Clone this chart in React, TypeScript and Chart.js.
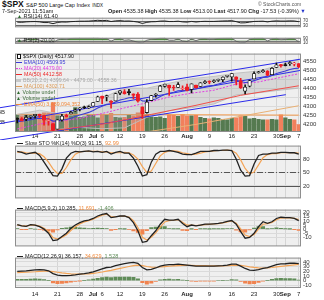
import React, { useEffect, useRef } from "react";
import { Chart, registerables } from "chart.js";

Chart.register(...registerables);

const FONT = "'Liberation Sans', Arial, Helvetica, sans-serif";
const W = 324;

// ---------------- data (trading days 8-Jun-2021 .. 7-Sep-2021) ----------------
const openP = [
  4233.8, 4232.0, 4228.6, 4242.9, 4248.3, 4255.3, 4248.9, 4220.4, 4204.8, 4173.4,
  4224.6, 4249.3, 4257.0, 4274.5, 4284.9, 4293.2, 4290.7, 4300.7, 4326.6, 4356.5,
  4351.0, 4321.1, 4329.4, 4372.4, 4381.1, 4380.1, 4369.0, 4367.4, 4296.4, 4265.1,
  4331.1, 4361.3, 4381.2, 4409.6, 4416.4, 4402.9, 4403.6, 4395.1, 4406.9, 4392.7,
  4415.9, 4408.9, 4429.1, 4437.8, 4435.8, 4442.2, 4446.1, 4464.8, 4461.7, 4462.1,
  4440.9, 4382.4, 4410.6, 4450.3, 4484.4, 4490.5, 4493.8, 4474.1, 4513.8, 4529.8,
  4528.8, 4534.5, 4532.4, 4535.4,
];
const highP = [
  4236.7, 4237.1, 4249.7, 4248.4, 4255.6, 4257.2, 4251.9, 4232.3, 4204.8, 4226.2,
  4255.8, 4256.6, 4271.3, 4286.1, 4292.1, 4300.5, 4302.4, 4320.7, 4355.4, 4356.5,
  4361.9, 4330.9, 4372.0, 4386.7, 4392.4, 4393.7, 4369.0, 4375.1, 4296.4, 4336.8,
  4359.7, 4369.9, 4415.2, 4422.7, 4416.4, 4415.5, 4430.0, 4412.3, 4422.2, 4423.8,
  4416.2, 4429.8, 4440.8, 4439.4, 4445.2, 4449.4, 4461.8, 4468.0, 4480.3, 4462.1,
  4454.3, 4418.6, 4444.4, 4489.9, 4492.8, 4501.7, 4495.9, 4513.3, 4537.4, 4531.4,
  4537.1, 4545.9, 4541.5, 4535.4,
];
const lowP = [
  4208.4, 4218.7, 4220.3, 4232.0, 4234.1, 4238.4, 4196.0, 4196.1, 4164.4, 4173.4,
  4217.3, 4241.4, 4257.0, 4271.2, 4274.7, 4287.0, 4288.0, 4300.7, 4326.6, 4314.4,
  4329.8, 4289.4, 4329.4, 4364.0, 4366.9, 4362.4, 4340.7, 4322.5, 4233.1, 4262.1,
  4331.1, 4350.1, 4381.2, 4405.5, 4360.0, 4387.0, 4403.6, 4389.2, 4384.8, 4373.0,
  4400.2, 4408.9, 4424.8, 4424.7, 4430.0, 4436.4, 4435.5, 4460.0, 4437.7, 4417.8,
  4397.6, 4367.7, 4406.8, 4450.3, 4482.3, 4485.7, 4469.0, 4474.1, 4513.8, 4515.8,
  4522.0, 4524.7, 4521.9, 4513.0,
];
const closeP = [
  4227.3, 4219.6, 4239.2, 4247.4, 4255.2, 4246.6, 4223.7, 4221.9, 4166.5, 4224.8,
  4246.4, 4241.8, 4266.5, 4280.7, 4290.6, 4291.8, 4297.5, 4319.9, 4352.3, 4343.5,
  4358.1, 4320.8, 4369.6, 4384.6, 4369.2, 4374.3, 4360.0, 4327.2, 4258.5, 4323.1,
  4358.7, 4367.5, 4411.8, 4422.3, 4401.5, 4400.6, 4419.2, 4395.3, 4387.2, 4423.2,
  4402.7, 4429.1, 4436.5, 4432.4, 4436.8, 4447.7, 4460.8, 4468.0, 4479.7, 4448.1,
  4400.3, 4405.8, 4441.7, 4479.5, 4486.2, 4496.2, 4470.0, 4509.4, 4528.8, 4522.7,
  4524.1, 4537.0, 4535.4, 4517.9,
];
const prevClose = 4226.5;
const volumeB = [
  3.5, 3.3, 3.5, 3.2, 3.1, 3.3, 3.9, 3.9, 6.0, 3.3,
  3.2, 3.0, 3.3, 5.0, 3.0, 3.1, 3.4, 3.4, 2.9, 3.6,
  3.4, 3.8, 3.0, 2.9, 3.0, 3.4, 3.3, 3.9, 4.3, 3.6,
  3.1, 3.0, 3.1, 2.8, 3.5, 3.4, 3.2, 3.6, 3.3, 3.3,
  3.4, 3.0, 2.8, 2.7, 2.9, 2.8, 2.6, 2.5, 2.8, 2.9,
  3.3, 3.2, 2.7, 2.8, 2.6, 2.5, 2.5, 2.6, 2.5, 3.5,
  2.9, 2.6, 2.5, 1.5,
];
const ema10 = [
  4215, 4217, 4221, 4226, 4231, 4234, 4232, 4230, 4218, 4219,
  4224, 4227, 4234, 4243, 4252, 4259, 4266, 4276, 4290, 4300,
  4311, 4313, 4323, 4334, 4340, 4347, 4349, 4345, 4329, 4328,
  4334, 4340, 4353, 4365, 4372, 4377, 4385, 4387, 4387, 4394,
  4396, 4402, 4408, 4412, 4416, 4422, 4429, 4436, 4443, 4444,
  4436, 4431, 4433, 4441, 4449, 4458, 4460, 4469, 4480, 4487,
  4494, 4502, 4508, 4510,
];
const bandIdx = [0, 5, 9, 14, 19, 24, 29, 34, 39, 44, 49, 54, 59, 63];
const ma20 = [4175, 4202, 4216, 4233, 4260, 4291, 4319, 4351, 4372, 4388, 4422, 4434, 4459, 4479];
const bbUpper = [4255, 4278, 4260, 4283, 4344, 4401, 4399, 4427, 4452, 4464, 4482, 4494, 4529, 4558.4];
const bbLower = [4095, 4126, 4172, 4183, 4176, 4181, 4239, 4275, 4292, 4312, 4362, 4374, 4389, 4399.6];
const ma50Idx = [0, 10, 20, 30, 40, 50, 63];
const ma50 = [4148, 4172, 4205, 4255, 4305, 4360, 4412.6];
const ma100Idx = [0, 20, 40, 63];
const ma100 = [4060, 4125, 4200, 4302.7];
const volEmaIdx = [0, 30, 63];
const volEma50 = [3.6, 3.55, 3.44];
const trendFromIdx = [-3.9, -3.9, -3.9];
const trendFromPrice = [4291.7, 4204, 4113.8];
const trendToIdx = [63.3, 63.3, 60.1];
const trendToPrice = [4559, 4497, 4363.7];

const rsi14 = [
  58, 56, 60, 62, 63, 60, 54, 54, 44, 55,
  59, 58, 62, 64, 66, 66, 67, 70, 74, 71,
  73, 63, 69, 71, 67, 68, 64, 58, 46, 56,
  61, 62, 67, 68, 63, 63, 66, 60, 58, 64,
  59, 63, 65, 64, 64, 66, 68, 69, 71, 62,
  51, 52, 58, 64, 65, 66, 60, 66, 69, 67,
  67, 69, 68, 61.4,
];
const rsi2 = [
  55, 35, 70, 80, 88, 55, 20, 18, 3, 60,
  78, 70, 88, 94, 96, 96, 97, 99, 99, 82,
  90, 35, 80, 88, 55, 62, 40, 15, 3, 55,
  75, 80, 95, 96, 55, 54, 80, 40, 30, 80,
  45, 78, 85, 70, 76, 88, 94, 96, 98, 35,
  8, 12, 72, 90, 93, 96, 40, 80, 90, 65,
  70, 88, 85, 20,
];
const stoK = [
  97, 95, 91, 93, 95, 88, 73, 58, 43, 42,
  58, 82, 93, 97, 96, 97, 98, 96, 97, 95,
  97, 91, 95, 97, 93, 93, 82, 64, 42, 45,
  73, 91, 97, 97, 99, 97, 95, 91, 90, 90,
  93, 97, 97, 97, 99, 99, 100, 100, 99, 80,
  55, 42, 43, 69, 88, 91, 91, 93, 93, 95,
  95, 94, 94, 91.15,
];
const stoD = [
  95, 96, 94, 93, 93, 92, 85, 73, 58, 48,
  48, 61, 78, 91, 96, 97, 97, 97, 97, 96,
  96, 94, 94, 94, 95, 94, 89, 80, 63, 50,
  53, 70, 87, 95, 98, 98, 97, 94, 92, 90,
  91, 93, 96, 97, 98, 99, 99, 100, 99, 93,
  78, 59, 47, 51, 67, 83, 90, 92, 92, 94,
  94, 94, 94, 92.99,
];
const macdFast = [
  5.5, 4, 3.5, 5.5, 5, 3, 0, -5, -14, -13,
  -9, -5, 1, 5, 8, 10, 11, 13, 16, 18,
  19, 14, 15, 16, 16, 14, 8, -2, -16, -15,
  -8, -2, 6, 12, 11, 11, 12, 7, 3, 5,
  4, 5, 6, 6, 6.5, 7, 8, 9.5, 10.5, 6,
  -3, -11, -10, -5, 3, 9, 7, 9, 13, 14.5,
  14, 14, 13, 10.285,
];
const macdFastSignal = [
  5, 4.3, 3.8, 4.9, 5, 3.7, 1.2, -2.9, -10.3, -12.1,
  -10, -6.7, -1.6, 2.8, 6.3, 8.8, 10.3, 12.1, 14.7, 16.9,
  18.3, 15.4, 15.1, 15.7, 15.9, 14.6, 10.2, 2.1, -10, -13.3,
  -9.8, -4.6, 2.5, 8.8, 10.3, 10.8, 11.6, 8.5, 4.8, 4.9,
  4.3, 4.8, 5.6, 5.9, 6.3, 6.8, 7.6, 8.9, 10, 7.3,
  0.4, -7.2, -9.1, -6.4, -0.1, 6, 6.7, 8.2, 11.4, 13.5,
  13.8, 13.9, 13.3, 11.691,
];
const macdFastHist = [
  0.5, -0.3, -0.3, 0.6, 0, -0.7, -1.2, -2.1, -3.7, -0.9,
  1, 1.7, 2.6, 2.2, 1.7, 1.2, 0.7, 0.9, 1.3, 1.1,
  0.7, -1.4, -0.1, 0.3, 0.1, -0.6, -2.2, -4.1, -6, -1.7,
  1.8, 2.6, 3.5, 3.2, 0.7, 0.2, 0.4, -1.5, -1.8, 0.1,
  -0.3, 0.2, 0.4, 0.1, 0.2, 0.2, 0.4, 0.6, 0.5, -1.3,
  -3.4, -3.8, -0.9, 1.4, 3.1, 3, 0.3, 0.8, 1.6, 1,
  0.2, 0.1, -0.3, -1.406,
];
const macdSlow = [
  20, 20.5, 21, 22, 23, 23.5, 23, 21, 15, 12,
  11, 11, 11.5, 12.5, 14, 15, 16.5, 19, 22, 25,
  28, 29, 32, 34, 36, 38, 39, 37, 28, 23,
  24, 27, 31, 33, 34, 34, 35, 34, 33, 32,
  31, 31, 31, 31, 31, 31.5, 32, 33, 35, 35,
  31, 26, 22.5, 22, 23.5, 26, 28, 31, 34, 35.5,
  36, 37, 37.5, 36.157,
];
const macdSlowSignal = [
  17, 17.5, 18, 18.5, 19, 19.8, 20.3, 20.4, 19.4, 18,
  16.6, 15.5, 14.7, 14.2, 14.1, 14.3, 14.7, 15.6, 16.9, 18.5,
  20.4, 22.1, 24.1, 26.1, 28.1, 30.1, 31.9, 32.9, 32, 30.2,
  29, 28.6, 29.1, 29.9, 30.7, 31.4, 32.1, 32.5, 32.6, 32.5,
  32.2, 32, 31.8, 31.6, 31.5, 31.5, 31.6, 31.9, 32.5, 32.9,
  32.5, 31.2, 29.5, 28.1, 27.2, 27, 27.2, 28, 29.2, 30.5,
  31.6, 32.7, 33.7, 34.629,
];
const macdSlowHist = [
  3, 3, 3, 3.5, 4, 3.7, 2.7, 0.6, -4.4, -6,
  -5.6, -4.5, -3.2, -1.7, -0.1, 0.7, 1.8, 3.4, 5.1, 6.5,
  7.6, 6.9, 7.9, 7.9, 7.9, 7.9, 7.1, 4.1, -4, -7.2,
  -5, -1.6, 1.9, 3.1, 3.3, 2.6, 2.9, 1.5, 0.4, -0.5,
  -1.2, -1, -0.8, -0.6, -0.5, 0, 0.4, 1.1, 2.5, 2.1,
  -1.5, -5.2, -7, -6.1, -3.7, -1, 0.8, 3, 4.8, 5,
  4.4, 4.3, 3.8, 1.528,
];

const xTickIdx = [4, 9, 14, 17, 19, 23, 28, 33, 38, 43, 48, 53, 58, 60, 63];
const xTickLabels = ["14", "21", "28", "Jul", "6", "12", "19", "26", "Aug", "9", "16", "23", "30", "Sep", "7"];
const monthNames = ["Jul", "Aug", "Sep"];
const priceTicks = [4200, 4250, 4300, 4350, 4400, 4450, 4500, 4550];
const volTicks = [2, 4];
const rsi14Levels = [70, 30];
const rsi2Levels = [90, 50, 10];
const rsi2Upper = 50;
const rsi2Lower = 10;
const stoLevels = [80, 50, 20];
const macdFastTicks = [20, 15, 10, 5, 0, -5, -10];
const macdSlowTicks = [40, 30, 20, 10, 0, -10];

// ---------------- helpers ----------------
const pts = (a: number[]) => a.map((v, i) => ({ x: i, y: v }));
const sparse = (idx: number[], v: number[]) => idx.map((x, i) => ({ x, y: v[i] }));

function panelPlugin(levels: any[] = []) {
  return {
    id: "panel",
    beforeDraw(chart: any) {
      const { ctx, chartArea: a } = chart;
      ctx.save();
      ctx.fillStyle = "#efefef";
      ctx.fillRect(a.left, a.top, a.right - a.left, a.bottom - a.top);
      ctx.restore();
    },
    beforeDatasetsDraw(chart: any) {
      const { ctx, chartArea: a } = chart;
      levels.forEach((l) => {
        const y = Math.round(chart.scales[l.axis || "y"].getPixelForValue(l.value)) + 0.5;
        ctx.save();
        ctx.strokeStyle = l.color;
        ctx.lineWidth = l.width || 1;
        ctx.setLineDash(l.dash || []);
        ctx.beginPath();
        ctx.moveTo(a.left, y);
        ctx.lineTo(a.right, y);
        ctx.stroke();
        ctx.restore();
      });
    },
    afterDraw(chart: any) {
      const { ctx, chartArea: a } = chart;
      ctx.save();
      ctx.strokeStyle = "#8e8e8e";
      ctx.lineWidth = 1;
      ctx.strokeRect(a.left + 0.5, a.top + 0.5, a.right - a.left - 1, a.bottom - a.top - 1);
      ctx.restore();
    },
  };
}

function xAxis(show: boolean, h: number, pad: number) {
  return {
    type: "linear",
    min: -0.5,
    max: 63.5,
    offset: false,
    afterBuildTicks: (s: any) => {
      s.ticks = xTickIdx.map((v) => ({ value: v }));
    },
    afterFit: (s: any) => {
      s.height = h;
    },
    grid: { color: "#d5d5d5", drawTicks: false, offset: false },
    border: { display: false },
    ticks: {
      display: show,
      autoSkip: false,
      maxRotation: 0,
      padding: pad,
      color: "#222",
      font: (c: any) => ({
        size: 6,
        family: FONT,
        weight: monthNames.includes(xTickLabels[c.index]) ? "bold" : "normal",
      }),
      callback: (_v: any, i: number) => xTickLabels[i],
    },
  };
}

function rightAxis(min: number, max: number, ticks: number[], size = 6, grid = true) {
  return {
    position: "right",
    min,
    max,
    afterBuildTicks: (s: any) => {
      s.ticks = ticks.map((v) => ({ value: v }));
    },
    afterFit: (s: any) => {
      s.width = 23;
    },
    grid: { display: grid, color: "#dadada", drawTicks: false },
    border: { display: false },
    ticks: {
      autoSkip: false,
      padding: 2,
      color: "#333",
      font: { size, family: FONT },
      callback: (v: any) => String(v),
    },
  };
}

function baseOptions(scales: any, padLeft = 15) {
  return {
    responsive: false,
    animation: false,
    devicePixelRatio: 1,
    events: [],
    layout: { padding: { left: padLeft, right: 0, top: 0, bottom: 0 } },
    plugins: { legend: { display: false }, tooltip: { enabled: false } },
    scales,
  };
}

const line = (data: any[], color: string, extra: any = {}) => ({
  type: "line",
  data,
  borderColor: color,
  borderWidth: 1,
  pointRadius: 0,
  tension: 0,
  fill: false,
  ...extra,
});

// ---------------- panels ----------------
function rsi14Config() {
  return {
    type: "line",
    data: { datasets: [line(pts(rsi14), "#222")] },
    options: baseOptions({ x: xAxis(false, 0, 0), y: rightAxis(12, 97, rsi14Levels, 4.5, false) }),
    plugins: [panelPlugin(rsi14Levels.map((v) => ({ value: v, color: "#666" })))],
  };
}

function rsi2Config() {
  return {
    type: "line",
    data: {
      datasets: [
        line(pts(rsi2), "#555", {
          borderWidth: 0.8,
          fill: { target: { value: rsi2Upper }, above: "#4f8a3f", below: "rgba(0,0,0,0)" },
        }),
        line(pts(rsi2), "rgba(0,0,0,0)", {
          fill: { target: { value: rsi2Lower }, above: "rgba(0,0,0,0)", below: "#f08a3c" },
        }),
      ],
    },
    options: baseOptions({ x: xAxis(false, 0, 0), y: rightAxis(-3, 103, [90, 10], 4.5, false) }),
    plugins: [
      panelPlugin([
        { value: rsi2Levels[0], color: "#9a9a9a" },
        { value: rsi2Levels[1], color: "#777" },
        { value: rsi2Levels[2], color: "#9a9a9a" },
      ]),
    ],
  };
}

function mainConfig() {
  const up = closeP.map((c, i) => c >= (i === 0 ? prevClose : closeP[i - 1]));
  const candleCol = up.map((u) => (u ? "#111111" : "#ee1c24"));
  const bodyFill = closeP.map((c, i) => (c > openP[i] ? "#ffffff" : candleCol[i]));
  const volCol = up.map((u) => (u ? "#557a50" : "#f2805c"));
  const trends = trendFromIdx.map((x0, k) =>
    line(
      [
        { x: x0, y: trendFromPrice[k] },
        { x: trendToIdx[k], y: trendToPrice[k] },
      ],
      "#2b2bea",
      { clip: false, order: 6 }
    )
  );
  const opts: any = baseOptions(
    {
      x: xAxis(true, 8, 1),
      y: rightAxis(4158, 4590, priceTicks),
      yVol: {
        position: "left",
        min: 0,
        max: 16,
        afterBuildTicks: (s: any) => {
          s.ticks = volTicks.map((v) => ({ value: v }));
        },
        afterFit: (s: any) => {
          s.width = 15;
        },
        grid: { display: false },
        border: { display: false },
        ticks: { padding: 2, color: "#333", font: { size: 6, family: FONT }, callback: (v: any) => v + "B" },
      },
    },
    0
  );
  return {
    type: "bar",
    data: {
      datasets: [
        {
          type: "bar",
          data: openP.map((o, i) => ({ x: i, y: [o, closeP[i]] })),
          backgroundColor: bodyFill,
          borderColor: candleCol,
          borderWidth: 0.8,
          borderSkipped: false,
          barThickness: 3.4,
          grouped: false,
          minBarLength: 1,
          order: 0,
          yAxisID: "y",
        },
        {
          type: "bar",
          data: lowP.map((l, i) => ({ x: i, y: [l, highP[i]] })),
          backgroundColor: candleCol,
          barThickness: 1,
          grouped: false,
          order: 1,
          yAxisID: "y",
        },
        line(pts(ema10), "#3b3bd6", { order: 2, yAxisID: "y", borderWidth: 1.1 }),
        line(sparse(bandIdx, ma20), "#e23ee2", { borderDash: [2, 1.5], order: 3, yAxisID: "y" }),
        line(sparse(ma50Idx, ma50), "#f0504a", { order: 4, yAxisID: "y" }),
        line(sparse(ma100Idx, ma100), "#e9b074", { order: 5, yAxisID: "y" }),
        ...trends,
        line(sparse(bandIdx, bbUpper), "#c2c2c2", {
          fill: "+1",
          backgroundColor: "rgba(160,160,160,0.3)",
          order: 8,
          yAxisID: "y",
        }),
        line(sparse(bandIdx, bbLower), "#c2c2c2", { order: 9, yAxisID: "y" }),
        line(sparse(volEmaIdx, volEma50), "#f39a4c", { order: 10, yAxisID: "yVol" }),
        {
          type: "bar",
          data: pts(volumeB),
          backgroundColor: volCol,
          barThickness: 3.6,
          grouped: false,
          order: 11,
          yAxisID: "yVol",
        },
      ],
    },
    options: opts,
    plugins: [panelPlugin()],
  };
}

function stoConfig() {
  return {
    type: "line",
    data: {
      datasets: [
        line(pts(stoK), "#222", { order: 0, borderWidth: 1.3 }),
        line(pts(stoD), "#f4a456", { order: 1, borderWidth: 1.2 }),
      ],
    },
    options: baseOptions({ x: xAxis(false, 0, 0), y: rightAxis(-8, 110, stoLevels) }),
    plugins: [
      panelPlugin([
        { value: 80, color: "#555" },
        { value: 50, color: "#555", dash: [6, 2, 1, 2] },
        { value: 20, color: "#555" },
      ]),
    ],
  };
}

function macdConfig(m: number[], s: number[], h: number[], min: number, max: number, ticks: number[], bottom: boolean) {
  const hc = h.map((v) => (v >= 0 ? "#5f8c58" : "#f0834f"));
  return {
    type: "bar",
    data: {
      datasets: [
        line(pts(m), "#222", { order: 0, borderWidth: 1.3 }),
        line(pts(s), "#f4a456", { order: 1, borderWidth: 1.2 }),
        { type: "bar", data: pts(h), backgroundColor: hc, barThickness: 3.4, grouped: false, order: 2 },
      ],
    },
    options: baseOptions({ x: xAxis(bottom, bottom ? 12 : 0, 3), y: rightAxis(min, max, ticks) }),
    plugins: [panelPlugin()],
  };
}

// ---------------- components ----------------
function ChartCanvas({ top, height, make }: any) {
  const ref = useRef<HTMLCanvasElement | null>(null);
  useEffect(() => {
    const c = new Chart(ref.current as any, make());
    return () => c.destroy();
  }, []);
  return (
    <canvas
      ref={ref}
      width={W}
      height={height}
      style={{ position: "absolute", left: 0, top, width: W, height, display: "block" }}
    />
  );
}

function Txt({ x, y, size = 5.5, color = "#222", bold = false, children }: any) {
  return (
    <div
      style={{
        position: "absolute",
        left: x,
        top: y,
        fontSize: size,
        lineHeight: 1,
        color,
        fontWeight: bold ? "bold" : "normal",
        whiteSpace: "nowrap",
        fontFamily: FONT,
      }}
    >
      {children}
    </div>
  );
}

const LineIcon = ({ color, dashed }: any) => (
  <span
    style={{
      display: "inline-block",
      width: 6,
      height: 0,
      borderTop: `1px ${dashed ? "dotted" : "solid"} ${color}`,
      verticalAlign: "middle",
      marginRight: 2,
    }}
  />
);

const Tri = ({ color = "#2f6a2f" }: any) => <span style={{ color, marginRight: 1.5, fontSize: 5 }}>▲</span>;

export default function App() {
  const legendRows: any[] = [
    { c: "#111", t: "$SPX (Daily) 4517.90", icon: "candle" },
    { c: "#3b3bd6", t: "EMA(10) 4509.95" },
    { c: "#e23ee2", t: "MA(20) 4479.00", dashed: true },
    { c: "#ee2a2a", t: "MA(50) 4412.58" },
    { c: "#a8a8a8", t: "BB(20,2.0) 4399.64 - 4479.00 - 4558.36", icon: "box" },
    { c: "#dd9c58", t: "MA(100) 4302.71" },
    { c: "#3d6b3a", t: "Volume undef", icon: "tri" },
    { c: "#3d6b3a", t: "Volume undef", icon: "tri" },
    { c: "#f0883a", t: "EMA(50) 3,439,094,352" },
  ];
  return (
    <div style={{ position: "fixed", left: 0, top: 0, width: W, height: 300, background: "#fff", overflow: "hidden" }}>
      <ChartCanvas top={13} height={19} make={rsi14Config} />
      <ChartCanvas top={33} height={15} make={rsi2Config} />
      <ChartCanvas top={48} height={92} make={mainConfig} />
      <ChartCanvas top={140} height={64} make={stoConfig} />
      <ChartCanvas
        top={204}
        height={48}
        make={() => macdConfig(macdFast, macdFastSignal, macdFastHist, -21, 23.8, macdFastTicks, false)}
      />
      <ChartCanvas
        top={252}
        height={48}
        make={() => macdConfig(macdSlow, macdSlowSignal, macdSlowHist, -15.4, 49, macdSlowTicks, true)}
      />

      {/* header */}
      <Txt x={2} y={0} size={8.5} bold color="#111">
        $SPX <span style={{ fontSize: 5.5, fontWeight: "normal" }}>S&amp;P 500 Large Cap Index</span>{" "}
        <span style={{ fontSize: 4.5, fontWeight: "normal" }}>INDX</span>
      </Txt>
      <Txt x={258} y={2} size={5} color="#555">
        © StockCharts.com
      </Txt>
      <Txt x={2} y={8.5} size={5.5}>
        7-Sep-2021 11:51am
      </Txt>
      <Txt x={108} y={8.5} size={5.5}>
        <b>Open</b> 4535.38 <b>High</b> 4535.38 <b>Low</b> 4513.00 <b>Last</b> 4517.90 <b>Chg</b> -17.53 (-0.39%){" "}
        <span style={{ color: "#2233cc" }}>▼</span>
      </Txt>

      {/* indicator labels */}
      <Txt x={17} y={14} size={5.5}>
        <Tri />
        RSI(14) 61.40
      </Txt>
      <Txt x={17} y={37.5} size={5.5}>
        <Tri />
        RSI(2) 20.00
      </Txt>
      <div style={{ position: "absolute", left: 16, top: 53, fontFamily: FONT, fontSize: 5.3, lineHeight: "6px" }}>
        {legendRows.map((r, i) => (
          <div key={i} style={{ color: r.c, whiteSpace: "nowrap", height: 6 }}>
            {r.icon === "candle" ? (
              <span
                style={{
                  display: "inline-block",
                  width: 2,
                  height: 3,
                  border: "1px solid #111",
                  background: "#fff",
                  marginRight: 2,
                  marginLeft: 1,
                  verticalAlign: "middle",
                }}
              />
            ) : r.icon === "box" ? (
              <span
                style={{
                  display: "inline-block",
                  width: 5,
                  height: 3,
                  background: "#c8c8c8",
                  marginRight: 2,
                  verticalAlign: "middle",
                }}
              />
            ) : r.icon === "tri" ? (
              <Tri />
            ) : (
              <LineIcon color={r.c} dashed={r.dashed} />
            )}
            {r.t}
          </div>
        ))}
      </div>
      <Txt x={17} y={141} size={5.5}>
        <LineIcon color="#222" />
        Slow STO %K(14) %D(3) 91.15, <span style={{ color: "#f08a3c" }}>92.99</span>
      </Txt>
      <Txt x={17} y={205.5} size={5.5}>
        <LineIcon color="#222" />
        MACD(5,9,2) 10.285, <span style={{ color: "#f08a3c" }}>11.691</span>,{" "}
        <span style={{ color: "#5f8c58" }}>-1.406</span>
      </Txt>
      <Txt x={17} y={253.5} size={5.5}>
        <LineIcon color="#222" />
        MACD(12,26,9) 36.157, <span style={{ color: "#f08a3c" }}>34.629</span>,{" "}
        <span style={{ color: "#5f8c58" }}>1.528</span>
      </Txt>
    </div>
  );
}
